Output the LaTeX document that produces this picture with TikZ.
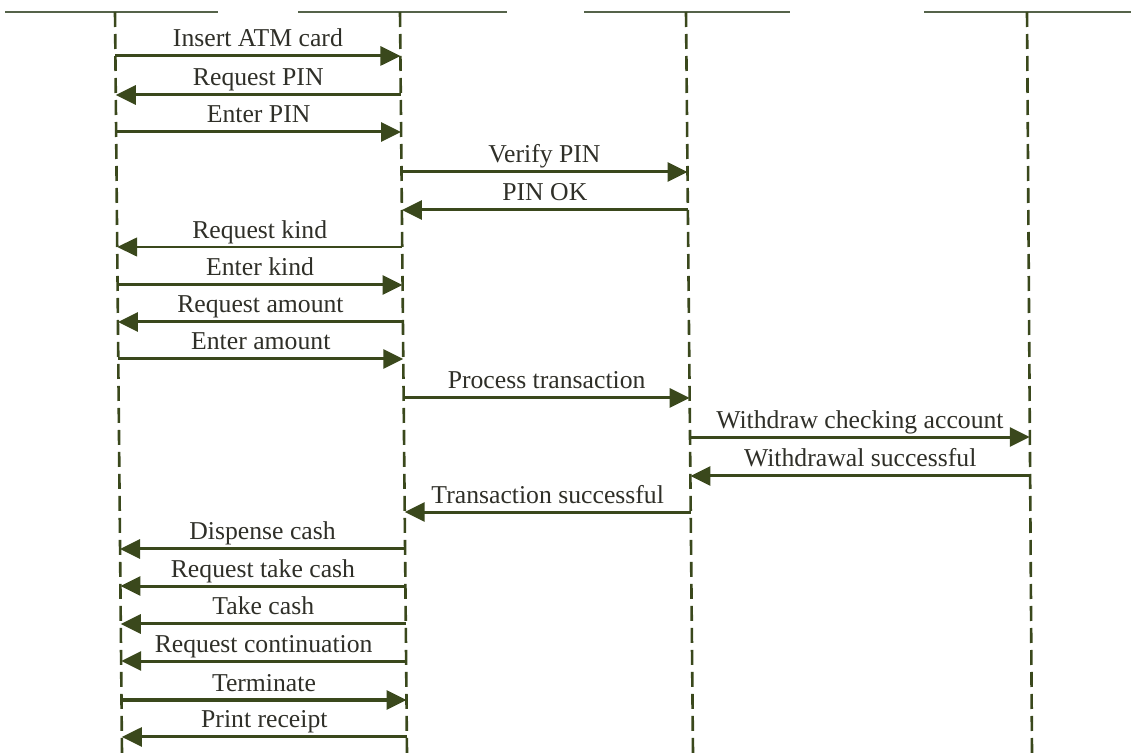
\documentclass[tikz,border=0pt]{standalone}
\usepackage{fontspec}
\setmainfont{Liberation Serif}
\usetikzlibrary{arrows.meta,calc}
\definecolor{linecol}{HTML}{3A481C}
\definecolor{txtcol}{HTML}{2F2F28}
\definecolor{topcol}{HTML}{55634A}
\begin{document}
\begin{tikzpicture}[x=1bp,y=-1bp,
  lifeline/.style={draw=linecol, line width=2.6bp, dash pattern=on 15bp off 7bp},
  boxedge/.style={draw=topcol, line width=1.8bp},
  msg/.style={draw=linecol, line width=3bp, -{Triangle[length=20bp,width=19bp]}},
  thinmsg/.style={msg, line width=1.6bp},
  msglabel/.style={text=txtcol, font=\fontsize{25.8}{26}\selectfont, anchor=base, inner sep=0pt, yshift=9bp}]
\useasboundingbox (0,0) rectangle (1131,753);
% lifelines (slightly skewed, as in the scan)
\coordinate (l1-top) at (115,12);  \coordinate (l1-bot) at (122,753);
\coordinate (l2-top) at (400,12);  \coordinate (l2-bot) at (407,753);
\coordinate (l3-top) at (686,12);  \coordinate (l3-bot) at (693,753);
\coordinate (l4-top) at (1027,12); \coordinate (l4-bot) at (1032,753);
% bottom edges of participant boxes
\draw[boxedge] (5,12) -- (218,12);
\draw[boxedge] (298,12) -- (507,12);
\draw[boxedge] (584,12) -- (790,12);
\draw[boxedge] (924,12) -- (1131,12);
\foreach \l in {l1,l2,l3,l4}{
  \draw[lifeline] (\l-top) -- (\l-bot);
}
% messages
\foreach \y/\a/\b/\t in {
  56/l1/l2/{Insert ATM card},
  95/l2/l1/{Request PIN},
  132/l1/l2/{Enter PIN},
  172/l2/l3/{Verify PIN},
  210/l3/l2/{PIN OK},
  285/l1/l2/{Enter kind},
  322/l2/l1/{Request amount},
  359/l1/l2/{Enter amount},
  398/l2/l3/{Process transaction},
  437/l3/l4/{Withdraw checking account},
  476/l4/l3/{Withdrawal successful},
  512/l3/l2/{Transaction successful},
  549/l2/l1/{Dispense cash},
  586/l2/l1/{Request take cash},
  624/l2/l1/{Take cash},
  661/l2/l1/{Request continuation},
  700/l1/l2/{Terminate},
  737/l2/l1/{Print receipt}}{
  \draw[msg] ($(\a-top)!{(\y-12)/741}!(\a-bot)$) -- node[msglabel] {\t}
             ($(\b-top)!{(\y-12)/741}!(\b-bot)$);
}
\draw[thinmsg] ($(l2-top)!{235/741}!(l2-bot)$) -- node[msglabel] (rk) {Request kind}
               ($(l1-top)!{235/741}!(l1-bot)$);
\end{tikzpicture}
\end{document}
